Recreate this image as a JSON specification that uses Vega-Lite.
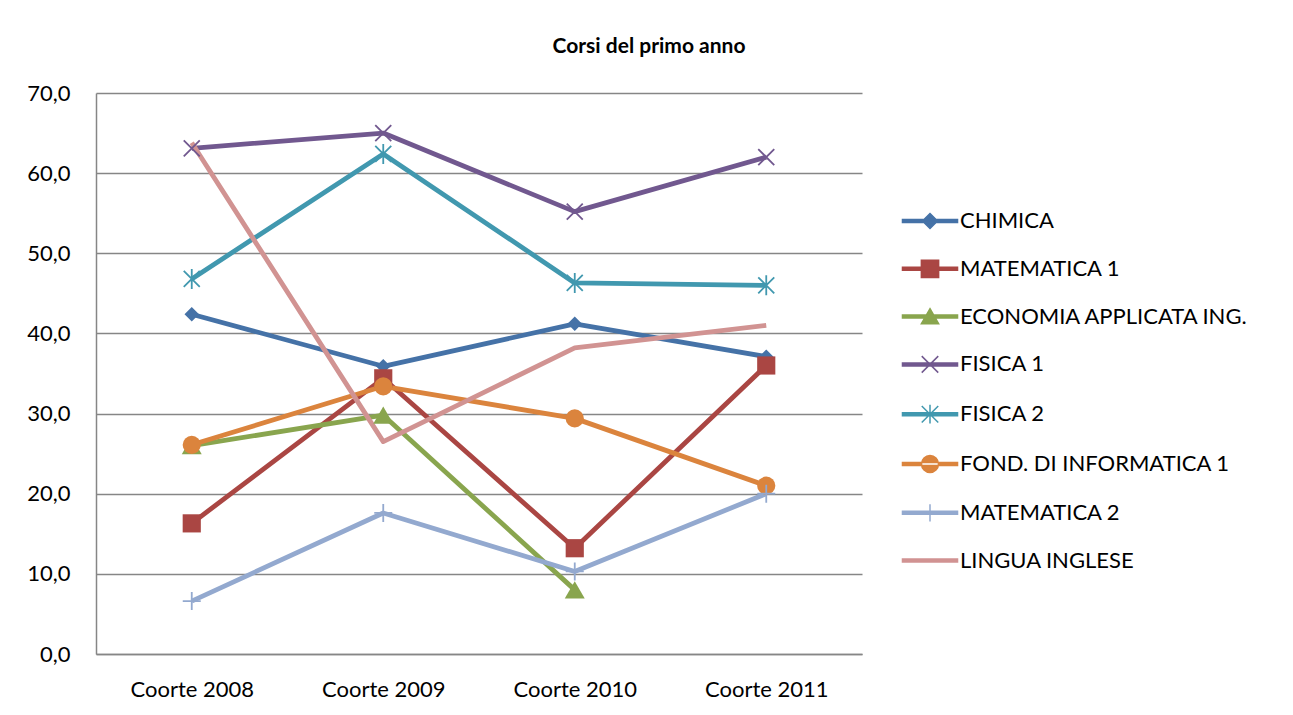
{
  "$schema": "https://vega.github.io/schema/vega-lite/v6.json",
  "autosize": "none",
  "width": 766,
  "height": 561,
  "padding": {"left": 96, "top": 93, "right": 431, "bottom": 61},
  "background": "white",
  "title": {"text": "Corsi del primo anno", "anchor": "middle", "frame": "group", "dx": 170, "offset": 25, "font": "Lato", "fontSize": 21, "fontWeight": "bold", "color": "black"},
  "config": {
    "view": {"stroke": null},
    "axis": {"labelFont": "Lato", "labelFontSize": 22, "labelColor": "black", "titleFont": "Lato", "labelOverlap": false}
  },
  "data": {"values": [
    {"coorte": "Coorte 2008", "corso": "CHIMICA", "valore": 42.4},
    {"coorte": "Coorte 2009", "corso": "CHIMICA", "valore": 35.9},
    {"coorte": "Coorte 2010", "corso": "CHIMICA", "valore": 41.2},
    {"coorte": "Coorte 2011", "corso": "CHIMICA", "valore": 37.1},
    {"coorte": "Coorte 2008", "corso": "MATEMATICA 1", "valore": 16.3},
    {"coorte": "Coorte 2009", "corso": "MATEMATICA 1", "valore": 34.4},
    {"coorte": "Coorte 2010", "corso": "MATEMATICA 1", "valore": 13.2},
    {"coorte": "Coorte 2011", "corso": "MATEMATICA 1", "valore": 36.0},
    {"coorte": "Coorte 2008", "corso": "ECONOMIA APPLICATA ING.", "valore": 26.0},
    {"coorte": "Coorte 2009", "corso": "ECONOMIA APPLICATA ING.", "valore": 29.8},
    {"coorte": "Coorte 2010", "corso": "ECONOMIA APPLICATA ING.", "valore": 8.0},
    {"coorte": "Coorte 2008", "corso": "FISICA 1", "valore": 63.1},
    {"coorte": "Coorte 2009", "corso": "FISICA 1", "valore": 65.0},
    {"coorte": "Coorte 2010", "corso": "FISICA 1", "valore": 55.2},
    {"coorte": "Coorte 2011", "corso": "FISICA 1", "valore": 62.0},
    {"coorte": "Coorte 2008", "corso": "FISICA 2", "valore": 46.8},
    {"coorte": "Coorte 2009", "corso": "FISICA 2", "valore": 62.4},
    {"coorte": "Coorte 2010", "corso": "FISICA 2", "valore": 46.3},
    {"coorte": "Coorte 2011", "corso": "FISICA 2", "valore": 46.0},
    {"coorte": "Coorte 2008", "corso": "FOND. DI INFORMATICA 1", "valore": 26.1},
    {"coorte": "Coorte 2009", "corso": "FOND. DI INFORMATICA 1", "valore": 33.4},
    {"coorte": "Coorte 2010", "corso": "FOND. DI INFORMATICA 1", "valore": 29.4},
    {"coorte": "Coorte 2011", "corso": "FOND. DI INFORMATICA 1", "valore": 21.0},
    {"coorte": "Coorte 2008", "corso": "MATEMATICA 2", "valore": 6.6},
    {"coorte": "Coorte 2009", "corso": "MATEMATICA 2", "valore": 17.6},
    {"coorte": "Coorte 2010", "corso": "MATEMATICA 2", "valore": 10.3},
    {"coorte": "Coorte 2011", "corso": "MATEMATICA 2", "valore": 20.0},
    {"coorte": "Coorte 2008", "corso": "LINGUA INGLESE", "valore": 63.8},
    {"coorte": "Coorte 2009", "corso": "LINGUA INGLESE", "valore": 26.5},
    {"coorte": "Coorte 2010", "corso": "LINGUA INGLESE", "valore": 38.2},
    {"coorte": "Coorte 2011", "corso": "LINGUA INGLESE", "valore": 41.0}
  ]},
  "encoding": {
    "x": {"field": "coorte", "type": "ordinal", "scale": {"type": "point", "padding": 0.5},
      "axis": {"title": null, "labelAngle": 0, "ticks": false, "domainColor": "#868686", "domainWidth": 1.5, "labelPadding": 25, "grid": false}},
    "y": {"field": "valore", "type": "quantitative", "scale": {"domain": [0, 70], "nice": false},
      "axis": {"title": null, "values": [0, 10, 20, 30, 40, 50, 60, 70], "labelExpr": "replace(format(datum.value, '.1f'), '.', ',')", "ticks": false, "domainColor": "#868686", "domainWidth": 1.5, "gridColor": "#868686", "gridWidth": 1.5, "labelPadding": 26}},
    "color": {"field": "corso", "type": "nominal",
      "scale": {"domain": ["CHIMICA", "MATEMATICA 1", "ECONOMIA APPLICATA ING.", "FISICA 1", "FISICA 2", "FOND. DI INFORMATICA 1", "MATEMATICA 2", "LINGUA INGLESE"],
        "range": ["#4572A7", "#AA4643", "#89A54E", "#71588F", "#4198AF", "#DB843D", "#93A9CF", "#D19392"]},
      "legend": {"title": null, "orient": "none", "legendX": 823, "legendY": 117, "padding": 0,
        "labelFont": "Lato", "labelFontSize": 22, "labelColor": "black", "labelOffset": 19,
        "symbolSize": 225, "rowPadding": 24.8, "labelLimit": 400,
        "encode": {"symbols": {"update": {
          "shape": {"signal": "datum.value === 'CHIMICA' ? 'M-3.67,-0.2H3.67V0.2H-3.67Z M0,-1L1,0L0,1L-1,0Z' : datum.value === 'MATEMATICA 1' ? 'M-3.67,-0.2H3.67V0.2H-3.67Z M-1.15,-1.15H1.15V1.15H-1.15Z' : datum.value === 'ECONOMIA APPLICATA ING.' ? 'M-3.67,-0.2H3.67V0.2H-3.67Z M0,-1.05L1.15,0.95H-1.15Z' : datum.value === 'FISICA 1' ? 'M-3.67,-0.2H3.67V0.2H-3.67Z M-1.1,-1.1L1.1,1.1M-1.1,1.1L1.1,-1.1' : datum.value === 'FISICA 2' ? 'M-3.67,-0.2H3.67V0.2H-3.67Z M-1.1,-1.1L1.1,1.1M-1.1,1.1L1.1,-1.1M0,-1.25V1.25' : datum.value === 'FOND. DI INFORMATICA 1' ? 'M-3.67,-0.2H3.67V0.2H-3.67Z M-1.13,0A1.13,1.13,0,1,0,1.13,0A1.13,1.13,0,1,0,-1.13,0Z' : datum.value === 'MATEMATICA 2' ? 'M-3.67,-0.2H3.67V0.2H-3.67Z M0,-1.15V1.15' : 'M-3.67,-0.2H3.67V0.2H-3.67Z'"},
          "fill": {"signal": "scale('color', datum.value)"},
          "stroke": {"signal": "scale('color', datum.value)"},
          "strokeWidth": {"value": 1.5},
          "opacity": {"value": 1}
        }}}
      }}
  },
  "layer": [
    {"mark": {"type": "line", "strokeWidth": 4.8, "strokeJoin": "round"}},
    {"transform": [{"filter": "indexof(['CHIMICA','MATEMATICA 1','ECONOMIA APPLICATA ING.','FOND. DI INFORMATICA 1'], datum.corso) >= 0"}],
     "mark": {"type": "point", "filled": true, "opacity": 1, "size": 330},
     "encoding": {"shape": {"field": "corso", "type": "nominal", "legend": null,
       "scale": {"domain": ["CHIMICA", "MATEMATICA 1", "ECONOMIA APPLICATA ING.", "FISICA 1", "FISICA 2", "FOND. DI INFORMATICA 1", "MATEMATICA 2"],
         "range": ["M0,-0.8L0.8,0L0,0.8L-0.8,0Z", "M-1,-1H1V1H-1Z", "M0,-0.95L1.1,0.95H-1.1Z", "M-0.8,-0.8L0.8,0.8M-0.8,0.8L0.8,-0.8", "M-0.8,-0.8L0.8,0.8M-0.8,0.8L0.8,-0.8M0,-1V1", "circle", "M0,-0.9V0.9M-0.9,0H0.9"]}}}},
    {"transform": [{"filter": "indexof(['FISICA 1','FISICA 2','MATEMATICA 2'], datum.corso) >= 0"}],
     "mark": {"type": "point", "filled": false, "opacity": 1, "size": 400, "strokeWidth": 1.8},
     "encoding": {"shape": {"field": "corso", "type": "nominal", "legend": null}}}
  ]
}
